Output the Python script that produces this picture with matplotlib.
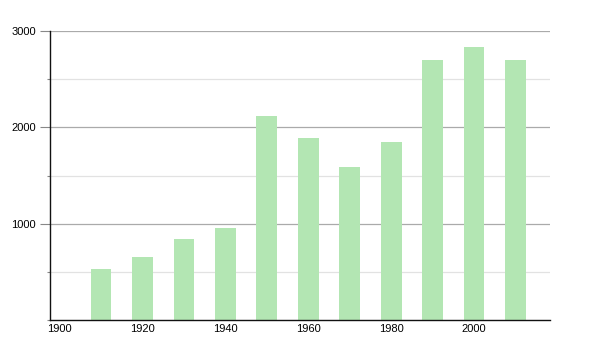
"""Bar chart of values per decade, 1910-2010."""

import matplotlib

matplotlib.use("Agg")
import matplotlib.pyplot as plt
from matplotlib.ticker import MultipleLocator

years = [1910, 1920, 1930, 1940, 1950, 1960, 1970, 1980, 1990, 2000, 2010]
values = [534, 659, 836, 950, 2121, 1889, 1586, 1847, 2700, 2834, 2700]
x_ticks = [1900, 1920, 1940, 1960, 1980, 2000]
y_ticks = [1000, 2000, 3000]

plt.rcParams["font.family"] = ["Liberation Sans", "DejaVu Sans"]

fig = plt.figure(figsize=(6, 3.5), dpi=100)
ax = fig.add_axes([50 / 600, 30 / 350, 500 / 600, 289 / 350])

ax.bar(years, values, width=5, color="#b3e6b3", zorder=2)

ax.set_xlim(1897.7, 2018.3)
ax.set_ylim(0, 3000)
ax.set_xticks(x_ticks)
ax.set_yticks(y_ticks)
ax.yaxis.set_minor_locator(MultipleLocator(500))

ax.grid(axis="y", which="major", color="#aaaaaa", linewidth=0.9, zorder=0)
ax.grid(axis="y", which="minor", color="#e2e2e2", linewidth=0.9, zorder=0)

for side in ("top", "right"):
    ax.spines[side].set_visible(False)
for side in ("left", "bottom"):
    ax.spines[side].set_linewidth(1.0)
    ax.spines[side].set_color("#111111")

ax.tick_params(axis="y", which="major", length=7, width=0.8, color="#888888", labelsize=8, pad=3)
ax.tick_params(axis="y", which="minor", length=2, width=0.8, color="#888888")
ax.tick_params(axis="x", length=0, labelsize=8, pad=3)

fig.savefig("out.png", dpi=100)
